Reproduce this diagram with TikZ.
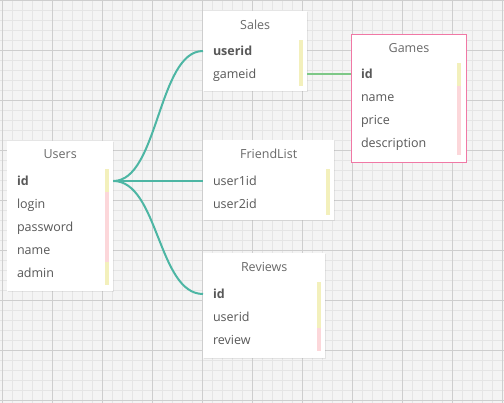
\documentclass[tikz,border=0pt]{standalone}
\usepackage{fontspec}
\setmainfont{Open Sans}
\usetikzlibrary{positioning, calc, shadows}
\definecolor{gridback}{RGB}{244, 244, 244}
\definecolor{gridthin}{RGB}{229, 229, 229}
\definecolor{gridthick}{RGB}{206, 206, 206}
\definecolor{linkcolor}{RGB}{77, 182, 164}
\definecolor{refcolor}{RGB}{125, 200, 135}
\definecolor{keycolor}{RGB}{243, 240, 188}
\definecolor{attrcolor}{RGB}{252, 215, 218}
\definecolor{fieldcolor}{RGB}{88, 88, 88}
\definecolor{titlecolor}{RGB}{105, 105, 105}
\definecolor{selectcolor}{RGB}{240, 120, 165}

\begin{document}
\begin{tikzpicture}[
    x=1pt, y=-1pt,
    gridminor/.style={
        draw=gridthin,
        line width=1pt
    },
    gridmajor/.style={
        draw=gridthick,
        line width=1pt
    },
    table/.style={
        rectangle,
        fill=white,
        inner sep=0pt,
        anchor=north west,
        drop shadow={opacity=0.15, shadow xshift=0.5pt, shadow yshift=-1pt}
    },
    selected/.style={
        draw=selectcolor,
        line width=1pt
    },
    tabletitle/.style={
        anchor=base,
        inner sep=0pt,
        text=titlecolor,
        font=\fontsize{12.5}{15}\selectfont
    },
    field/.style={
        anchor=west,
        inner sep=0pt,
        outer sep=0pt,
        minimum height=23pt,
        text height=12pt,
        text depth=2pt,
        text=fieldcolor,
        font=\fontsize{12.5}{15}\selectfont
    },
    keyfield/.style={
        field,
        font=\fontsize{12.5}{15}\selectfont\bfseries
    },
    keybar/.style={fill=keycolor},
    attrbar/.style={fill=attrcolor},
    link/.style={
        draw=linkcolor,
        line width=2pt
    },
    ref/.style={
        draw=refcolor,
        line width=2pt
    }
]

\useasboundingbox (0,0) rectangle (504,403);

% Background grid
\fill[gridback] (0,0) rectangle (504,403);
\foreach \gx in {2,12,...,502} \draw[gridminor] (\gx,0) -- (\gx,403);
\foreach \gy in {1,11,...,401} \draw[gridminor] (0,\gy) -- (504,\gy);
\foreach \gx in {2,52,...,502} \draw[gridmajor] (\gx,0) -- (\gx,403);
\foreach \gy in {1,51,...,401} \draw[gridmajor] (0,\gy) -- (504,\gy);

% Tables
\node[table, minimum width=106pt, minimum height=150pt] (users) at (7,141) {};
\node[table, minimum width=104pt, minimum height=80pt] (sales) at (203,11) {};
\node[table, selected, minimum width=115pt, minimum height=128pt] (games) at (351,34) {};
\node[table, minimum width=131pt, minimum height=80pt] (friends) at (203,140) {};
\node[table, minimum width=122pt, minimum height=105pt] (reviews) at (203,253) {};

% Titles
\node[tabletitle] (users-title) at ($(users.north)+(0,18)$) {Users};
\node[tabletitle] (sales-title) at ($(sales.north)+(0,19)$) {Sales};
\node[tabletitle] (games-title) at ($(games.north)+(0,19)$) {Games};
\node[tabletitle] (friends-title) at ($(friends.north)+(0,19)$) {FriendList};
\node[tabletitle] (reviews-title) at ($(reviews.north)+(0,19)$) {Reviews};

% Users fields
\node[keyfield] (users-id) at ($(users.north west)+(10,40)$) {id};
\node[field, below=0pt of users-id.south west, anchor=north west] (users-login) {login};
\node[field, below=0pt of users-login.south west, anchor=north west] (users-password) {password};
\node[field, below=0pt of users-password.south west, anchor=north west] (users-name) {name};
\node[field, below=0pt of users-name.south west, anchor=north west] (users-admin) {admin};

% Sales fields
\node[keyfield] (sales-userid) at ($(sales.north west)+(10,40)$) {userid};
\node[field, below=0pt of sales-userid.south west, anchor=north west] (sales-gameid) {gameid};

% Games fields
\node[keyfield] (games-id) at ($(games.north west)+(10,40)$) {id};
\node[field, below=0pt of games-id.south west, anchor=north west] (games-name) {name};
\node[field, below=0pt of games-name.south west, anchor=north west] (games-price) {price};
\node[field, below=0pt of games-price.south west, anchor=north west] (games-description) {description};

% FriendList fields
\node[field] (friends-user1id) at ($(friends.north west)+(10,41)$) {user1id};
\node[field, below=0pt of friends-user1id.south west, anchor=north west] (friends-user2id) {user2id};

% Reviews fields
\node[keyfield] (reviews-id) at ($(reviews.north west)+(10,41)$) {id};
\node[field, below=0pt of reviews-id.south west, anchor=north west] (reviews-userid) {userid};
\node[field, below=0pt of reviews-userid.south west, anchor=north west] (reviews-review) {review};

% Field bars
\fill[keybar] (105,169) rectangle (109,192);
\fill[attrbar] (105,192) rectangle (109,262);
\fill[keybar] (105,262) rectangle (109,285);
\fill[keybar] (299,40) rectangle (303,86);
\fill[keybar] (457,63) rectangle (461,86);
\fill[attrbar] (457,86) rectangle (461,155);
\fill[keybar] (326,169) rectangle (330,215);
\fill[keybar] (317,282) rectangle (321,328);
\fill[attrbar] (317,328) rectangle (321,351);

% Relations from Users
\draw[link] (users.east |- users-id) .. controls +(45,0) and +(-45,0) .. (sales.west |- sales-userid);
\draw[link] (users.east |- users-id) -- (friends.west |- friends-user1id);
\draw[link] (users.east |- users-id) .. controls +(45,0) and +(-45,0) .. (reviews.west |- reviews-id);

% Relation Sales to Games
\draw[ref] (sales.east |- sales-gameid) -- (games.west |- games-id);

\end{tikzpicture}
\end{document}
